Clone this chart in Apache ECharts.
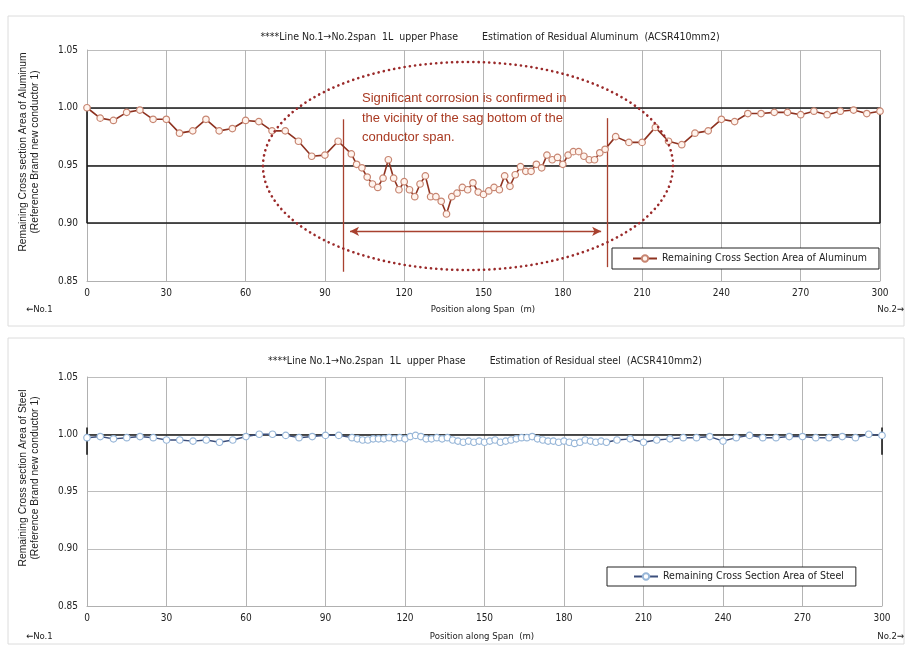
<!DOCTYPE html>
<html>
<head>
<meta charset="utf-8">
<script src="https://cdn.jsdelivr.net/npm/echarts@6/dist/echarts.min.js"></script>
<style>
html,body{margin:0;padding:0;background:#fff;}
#c{width:909px;height:648px;}
</style>
</head>
<body>
<div id="c"></div>
<script>
// ---- data ----
var xTicks = [0, 30, 60, 90, 120, 150, 180, 210, 240, 270, 300];
var yTicks = [0.85, 0.90, 0.95, 1.00, 1.05];

var alPos = [0,5,10,15,20,25,30,35,40,45,50,55,60,65,70,75,80,85,90,95,
  100,102,104,106,108,110,112,114,116,118,120,122,124,126,128,130,132,134,136,138,
  140,142,144,146,148,150,152,154,156,158,160,162,164,166,168,170,172,174,176,178,
  180,182,184,186,188,190,192,194,196,
  200,205,210,215,220,225,230,235,240,245,250,255,260,265,270,275,280,285,290,295,300];
var alVal = [1.000,0.991,0.989,0.996,0.998,0.990,0.990,0.978,0.980,0.990,0.980,0.982,0.989,0.988,0.980,0.980,0.971,0.958,0.959,0.971,
  0.960,0.951,0.948,0.940,0.934,0.931,0.939,0.955,0.939,0.929,0.936,0.929,0.923,0.934,0.941,0.923,0.923,0.919,0.908,0.923,
  0.926,0.931,0.929,0.935,0.927,0.925,0.928,0.931,0.929,0.941,0.932,0.942,0.949,0.945,0.945,0.951,0.948,0.959,0.955,0.957,
  0.951,0.959,0.962,0.962,0.958,0.955,0.955,0.961,0.964,
  0.975,0.970,0.970,0.983,0.971,0.968,0.978,0.980,0.990,0.988,0.995,0.995,0.996,0.996,0.994,0.997,0.994,0.997,0.998,0.995,0.997];

var stPos = alPos;
var stVal = [0.997,0.998,0.996,0.997,0.998,0.997,0.995,0.995,0.994,0.995,0.993,0.995,0.998,1.000,1.000,0.999,0.997,0.998,0.999,0.999,
  0.997,0.996,0.995,0.995,0.996,0.996,0.996,0.997,0.996,0.997,0.996,0.998,0.999,0.998,0.996,0.996,0.997,0.996,0.997,0.995,
  0.994,0.993,0.994,0.993,0.994,0.993,0.994,0.995,0.993,0.994,0.995,0.996,0.997,0.997,0.998,0.996,0.995,0.994,0.994,0.993,
  0.994,0.993,0.992,0.993,0.995,0.994,0.993,0.994,0.993,
  0.995,0.996,0.993,0.995,0.996,0.997,0.997,0.998,0.994,0.997,0.999,0.997,0.997,0.998,0.998,0.997,0.997,0.998,0.997,1.000,0.999];

var titleTop = '****Line No.1\u2192No.2span  1L  upper Phase        Estimation of Residual Aluminum  (ACSR410mm2)';
var titleBot = '****Line No.1\u2192No.2span  1L  upper Phase        Estimation of Residual steel  (ACSR410mm2)';
var nameAl = 'Remaining Cross Section Area of Aluminum';
var nameSt = 'Remaining Cross Section Area of Steel';
var noteLines = ['Significant corrosion is confirmed in', 'the vicinity of the sag bottom of the', 'conductor span.'];

function pairs(xs, ys){ return xs.map(function(x,i){ return [x, ys[i]]; }); }

var FN = "'Liberation Sans Narrow','DejaVu Sans Condensed','Liberation Sans',sans-serif";

function xAxisCfg(gi){
  return {
    type:'value', gridIndex:gi, min:0, max:300, interval:30,
    axisLine:{show:true, lineStyle:{color:'#b0b0b0', width:1}},
    axisTick:{show:false},
    axisLabel:{fontFamily:FN, fontSize:10, color:'#222', margin:7},
    splitLine:{show:true, lineStyle:{color:'#b4b4b4', width:1}}
  };
}
function yAxisCfg(gi){
  return {
    type:'value', gridIndex:gi, min:0.85, max:1.05, interval:0.05,
    axisLine:{show:true, lineStyle:{color:'#b0b0b0', width:1}},
    axisTick:{show:false},
    axisLabel:{fontFamily:FN, fontSize:10, color:'#222', margin:9,
      formatter:function(v){ return v.toFixed(2); }},
    splitLine:{show:true, lineStyle:{color:'#bdbdbd', width:1}}
  };
}

var blackLine = {color:'#1a1a1a', width:1.6, type:'solid'};
var redLine = {color:'#a8412f', width:1.3, type:'solid'};

var option = {
  animation:false,
  backgroundColor:'#ffffff',
  title:[
    {text:titleTop, left:485, top:27, textAlign:'center',
     textStyle:{fontFamily:FN, fontSize:10.5, fontWeight:'normal', color:'#222'}},
    {text:titleBot, left:480, top:351, textAlign:'center',
     textStyle:{fontFamily:FN, fontSize:10.5, fontWeight:'normal', color:'#222'}}
  ],
  grid:[
    {left:87, right:29, top:50, height:231},
    {left:87, right:27, top:377, height:229}
  ],
  xAxis:[xAxisCfg(0), xAxisCfg(1)],
  yAxis:[yAxisCfg(0), yAxisCfg(1)],
  legend:[
    {data:[nameAl], left:612, top:248, orient:'horizontal',
     borderColor:'#222', borderWidth:1, padding:[5,12,5,20], itemWidth:24, itemHeight:8, itemGap:4,
     textStyle:{fontFamily:FN, fontSize:10.5, color:'#222'}, backgroundColor:'#fff'},
    {data:[nameSt], left:607, top:567, orient:'horizontal',
     borderColor:'#222', borderWidth:1, padding:[4,12,4,26], itemWidth:24, itemHeight:8,
     textStyle:{fontFamily:FN, fontSize:10.5, color:'#222'}, backgroundColor:'#fff'}
  ],
  series:[
    {
      name:nameAl, type:'line', xAxisIndex:0, yAxisIndex:0,
      data:pairs(alPos, alVal),
      symbol:'circle', symbolSize:6.5, showAllSymbol:true,
      lineStyle:{color:'#8e3220', width:1.6},
      itemStyle:{color:'#fff4ee', borderColor:'#c78571', borderWidth:1.2},
      z:5,
      markLine:{
        silent:true, symbol:'none', label:{show:false}, animation:false,
        lineStyle:blackLine,
        data:[
          {yAxis:1.00}, {yAxis:0.95}, {yAxis:0.90},
          [{coord:[0,0.90]},{coord:[0,1.00]}],
          [{coord:[300,0.90]},{coord:[300,1.00]}]
        ]
      }
    },
    {
      name:'note', type:'line', xAxisIndex:0, yAxisIndex:0, data:[],
      markLine:{
        silent:true, symbol:'none', label:{show:false}, animation:false,
        lineStyle:redLine,
        data:[
          [{coord:[97,0.990]},{coord:[97,0.858]}],
          [{coord:[197,0.991]},{coord:[197,0.862]}],
          [{coord:[99.5,0.893], symbol:'arrow', symbolSize:[7,9]},
           {coord:[194.5,0.893], symbol:'arrow', symbolSize:[7,9]}]
        ]
      }
    },
    {
      name:nameSt, type:'line', xAxisIndex:1, yAxisIndex:1,
      data:pairs(stPos, stVal),
      symbol:'circle', symbolSize:6.5, showAllSymbol:true,
      lineStyle:{color:'#3c4f7c', width:1.4},
      itemStyle:{color:'#ffffff', borderColor:'#97b6d8', borderWidth:1.2},
      z:5,
      markLine:{
        silent:true, symbol:'none', label:{show:false}, animation:false,
        lineStyle:blackLine,
        data:[
          {yAxis:1.00},
          [{coord:[0,0.982]},{coord:[0,1.006]}],
          [{coord:[300,0.982]},{coord:[300,1.006]}]
        ]
      }
    }
  ],
  graphic:[
    {type:'rect', shape:{x:8, y:16, width:896, height:310}, style:{fill:'none', stroke:'#dcdcdc', lineWidth:1}, z:-10},
    {type:'rect', shape:{x:8, y:338, width:896, height:306}, style:{fill:'none', stroke:'#dcdcdc', lineWidth:1}, z:-10},
    {type:'ellipse', shape:{cx:468, cy:166, rx:205, ry:104},
     style:{fill:'none', stroke:'#9a2a2a', lineWidth:2.6, lineDash:[0.1,5.2], lineCap:'round'}, z:10},
    {type:'text', left:362, top:89, z:11,
     style:{text:noteLines.join('\n'), fill:'#a93a22', font:"13px 'Liberation Sans', Arial, sans-serif", lineHeight:19.5}},
    // axis names top
    {type:'text', x:23, y:152, rotation:Math.PI/2, z:11,
     style:{text:'Remaining Cross section Area of Aluminum', fill:'#222', font:"10.3px 'Liberation Sans',sans-serif", textAlign:'center', textVerticalAlign:'middle'}},
    {type:'text', x:35, y:152, rotation:Math.PI/2, z:11,
     style:{text:'(Reference Brand new conductor 1)', fill:'#222', font:"10.3px 'Liberation Sans',sans-serif", textAlign:'center', textVerticalAlign:'middle'}},
    {type:'text', x:483, y:310, z:11,
     style:{text:'Position along Span  (m)', fill:'#222', font:"9.5px "+FN, textAlign:'center', textVerticalAlign:'middle'}},
    {type:'text', x:26, y:310, z:11,
     style:{text:'\u2190No.1', fill:'#222', font:"9.5px "+FN, textAlign:'left', textVerticalAlign:'middle'}},
    {type:'text', x:904, y:310, z:11,
     style:{text:'No.2\u2192', fill:'#222', font:"9.5px "+FN, textAlign:'right', textVerticalAlign:'middle'}},
    // axis names bottom
    {type:'text', x:23, y:478, rotation:Math.PI/2, z:11,
     style:{text:'Remaining Cross section Area of Steel', fill:'#222', font:"10.3px 'Liberation Sans',sans-serif", textAlign:'center', textVerticalAlign:'middle'}},
    {type:'text', x:35, y:478, rotation:Math.PI/2, z:11,
     style:{text:'(Reference Brand new conductor 1)', fill:'#222', font:"10.3px 'Liberation Sans',sans-serif", textAlign:'center', textVerticalAlign:'middle'}},
    {type:'text', x:482, y:637, z:11,
     style:{text:'Position along Span  (m)', fill:'#222', font:"9.5px "+FN, textAlign:'center', textVerticalAlign:'middle'}},
    {type:'text', x:26, y:637, z:11,
     style:{text:'\u2190No.1', fill:'#222', font:"9.5px "+FN, textAlign:'left', textVerticalAlign:'middle'}},
    {type:'text', x:904, y:637, z:11,
     style:{text:'No.2\u2192', fill:'#222', font:"9.5px "+FN, textAlign:'right', textVerticalAlign:'middle'}}
  ]
};

var chart = echarts.init(document.getElementById('c'), null, {renderer:'canvas'});
chart.setOption(option);
</script>
</body>
</html>
